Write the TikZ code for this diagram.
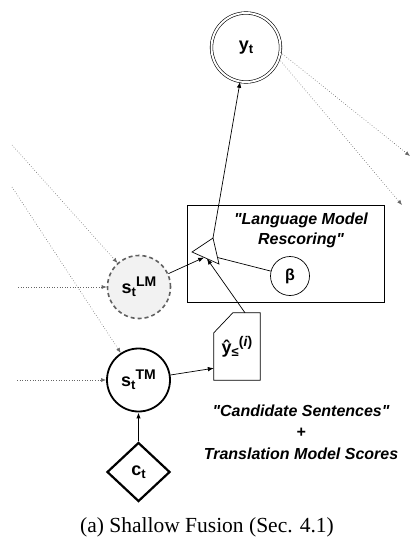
\documentclass[tikz,border=0pt]{standalone}
\usepackage{fontspec}
\setmainfont{Liberation Serif}
\setsansfont{Liberation Sans}[Ligatures=TeXOff]
\usetikzlibrary{positioning, shapes.geometric, arrows.meta, calc}
\newcommand\lowidx[1]{\raisebox{-3pt}{\fontsize{13}{13}\selectfont #1}}
\newcommand\highidx[1]{\raisebox{7pt}{\fontsize{14}{14}\selectfont #1}}

\begin{document}
\begin{tikzpicture}[x=1pt, y=-1pt,
		lbl/.style={font=\fontsize{18}{20}\selectfont\sffamily\bfseries, inner sep=0pt},
		statenode/.style={circle, draw, lbl, minimum size=63pt},
		conn/.style={-{Latex[length=6pt,width=4.5pt]}, line width=0.7pt},
		dotconn/.style={-{Latex[length=5pt,width=4pt]}, dotted, line width=0.6pt, gray!80!black},
		quotetext/.style={font=\fontsize{16}{21.5}\selectfont\sffamily\bfseries\itshape, align=center}]
			\useasboundingbox (0,0) rectangle (412,546);
			% nodes
			\node[circle, draw, double, double distance=2pt, line width=0.6pt, minimum size=69pt, lbl] (yt) at (246,47.5) {y\lowidx{t}};
			\node[statenode, dashed, dash pattern=on 4pt off 3pt, draw=gray!75!black, fill=gray!10, line width=1.6pt] (slm) at (139,287) {s\lowidx{t}\highidx{LM}};
			\node[statenode, line width=1.8pt] (stm) at (138.5,380) {s\lowidx{t}\highidx{TM}};
			\node[diamond, draw, lbl, line width=2.2pt, minimum width=63pt, minimum height=59pt] (ct) at (138.5,472) {c\lowidx{t}};
			\node[draw, line width=0.8pt, minimum width=197pt, minimum height=97pt] (rescore) at (285.5,253.5) {};
			\node[quotetext, font=\fontsize{16}{20}\selectfont\sffamily\bfseries\itshape] (rescoretext) at (301,230) {"Language Model\\Rescoring"};
			\node[circle, draw, line width=0.7pt, minimum size=39pt, lbl, font=\fontsize{16}{18}\selectfont\sffamily\bfseries] (beta) at (290,276) {β};
			% gate
			\coordinate (gtip) at (192,252);
			\coordinate (gtop) at (213,238);
			\coordinate (gbot) at (219,264);
			\draw[line width=0.7pt] (gtip) -- (gtop) -- (gbot) -- cycle;
			\coordinate (gin1) at ($(gtip)!0.45!(gbot)$);
			\coordinate (gin2) at ($(gtip)!0.55!(gbot)$);
			\coordinate (gin3) at ($(gtop)!0.75!(gbot)$);
			% candidates
			\node[minimum width=46pt, minimum height=67pt, lbl] (cand) at (237,346.5) {ŷ\lowidx{≤}\highidx{(\textit{i})}};
			\draw[line width=0.7pt] (cand.south west) -- ([yshift=-20pt]cand.north west) -- ([xshift=19pt]cand.north west) -- (cand.north east) -- (cand.south east) -- cycle;
			\node[quotetext] (candtext) at (301,432) {"Candidate Sentences"\\+\\Translation Model Scores};
			% connectors
			\draw[conn] (stm) -- ([yshift=12pt]cand.south west);
			\draw[conn] ([xshift=8pt]cand.north) -- (gin2);
			\draw[conn] (slm) -- (gin1);
			\draw[line width=0.7pt] (beta) -- (gin3);
			\draw[conn] (gtop) -- (yt);
			\draw[conn, line width=1.8pt] (ct) -- (stm);
			% recurrent inputs and outputs
			\coordinate (lmfar) at (12,145);
			\coordinate (lmnear) at (18,287);
			\coordinate (tmfar) at (12,187);
			\coordinate (tmnear) at (17,380);
			\coordinate (outa) at (410,156);
			\coordinate (outb) at (402,205);
			\draw[dotconn] (lmfar) -- (slm);
			\draw[dotconn] (lmnear) -- (slm);
			\draw[dotconn] (tmfar) -- (stm);
			\draw[dotconn] (tmnear) -- (stm);
			\draw[dotconn] (yt.-8) -- (outa);
			\draw[dotconn] (yt.-19) -- (outb);
			\node[font=\fontsize{21.5}{24}\selectfont] (caption) at (207,527) {(a) Shallow Fusion (Sec. 4.1)};
		\end{tikzpicture}
\end{document}
